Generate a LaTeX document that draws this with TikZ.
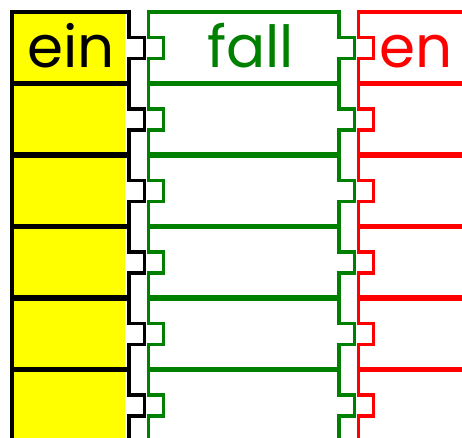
\documentclass[tikz,border=0pt]{standalone}
\usepackage{fontspec}
\setmainfont{Poppins}
\definecolor{pgreen}{RGB}{0,128,0}
\definecolor{pred}{RGB}{255,0,0}
\definecolor{pyellow}{RGB}{255,255,0}
\tikzset{
  piece/.style={line width=3.5pt, line join=miter},
  word/.style={anchor=base, inner sep=0pt, font=\fontsize{58}{58}\selectfont}
}
\begin{document}
\begin{tikzpicture}[x=1pt,y=-1pt]
\useasboundingbox (0,0) rectangle (462,437);
\clip (0,0) rectangle (462,437);
\fill[white] (0,0) rectangle (462,437);
\foreach \k in {0,...,5}{
  \pgfmathsetmacro{\t}{12+71.5*\k+(\k>0)}
  \pgfmathsetmacro{\b}{12+71.5*(\k+1)-1}
  \pgfmathsetmacro{\m}{12+71.5*\k+35.75}
  \pgfmathsetmacro{\mt}{\m-10.5}
  \pgfmathsetmacro{\mb}{\m+10.5}
  % black / yellow piece
  \fill[pyellow] (12,\t) rectangle (124.5,\b);
  \draw[piece, black] (129,\t) -- (12,\t) -- (12,\b) -- (129,\b) -- (129,\mb) -- (144.5,\mb) -- (144.5,\mt) -- (129,\mt) -- cycle;
  % green piece
  \draw[piece, pgreen] (148.5,\t) -- (339,\t) -- (339,\mt) -- (354.5,\mt) -- (354.5,\mb) -- (339,\mb) -- (339,\b) -- (148.5,\b) -- (148.5,\mb) -- (163.5,\mb) -- (163.5,\mt) -- (148.5,\mt) -- cycle;
  % red piece
  \draw[piece, pred] (480,\t) -- (358.5,\t) -- (358.5,\mt) -- (373.5,\mt) -- (373.5,\mb) -- (358.5,\mb) -- (358.5,\b) -- (480,\b);
}
\node[word, text=black] (ein) at (71,67) {ein};
\node[word, text=pgreen] (fall) at (250.5,67) {fall};
\node[word, text=pred] (en) at (416,67) {en};
\end{tikzpicture}
\end{document}
